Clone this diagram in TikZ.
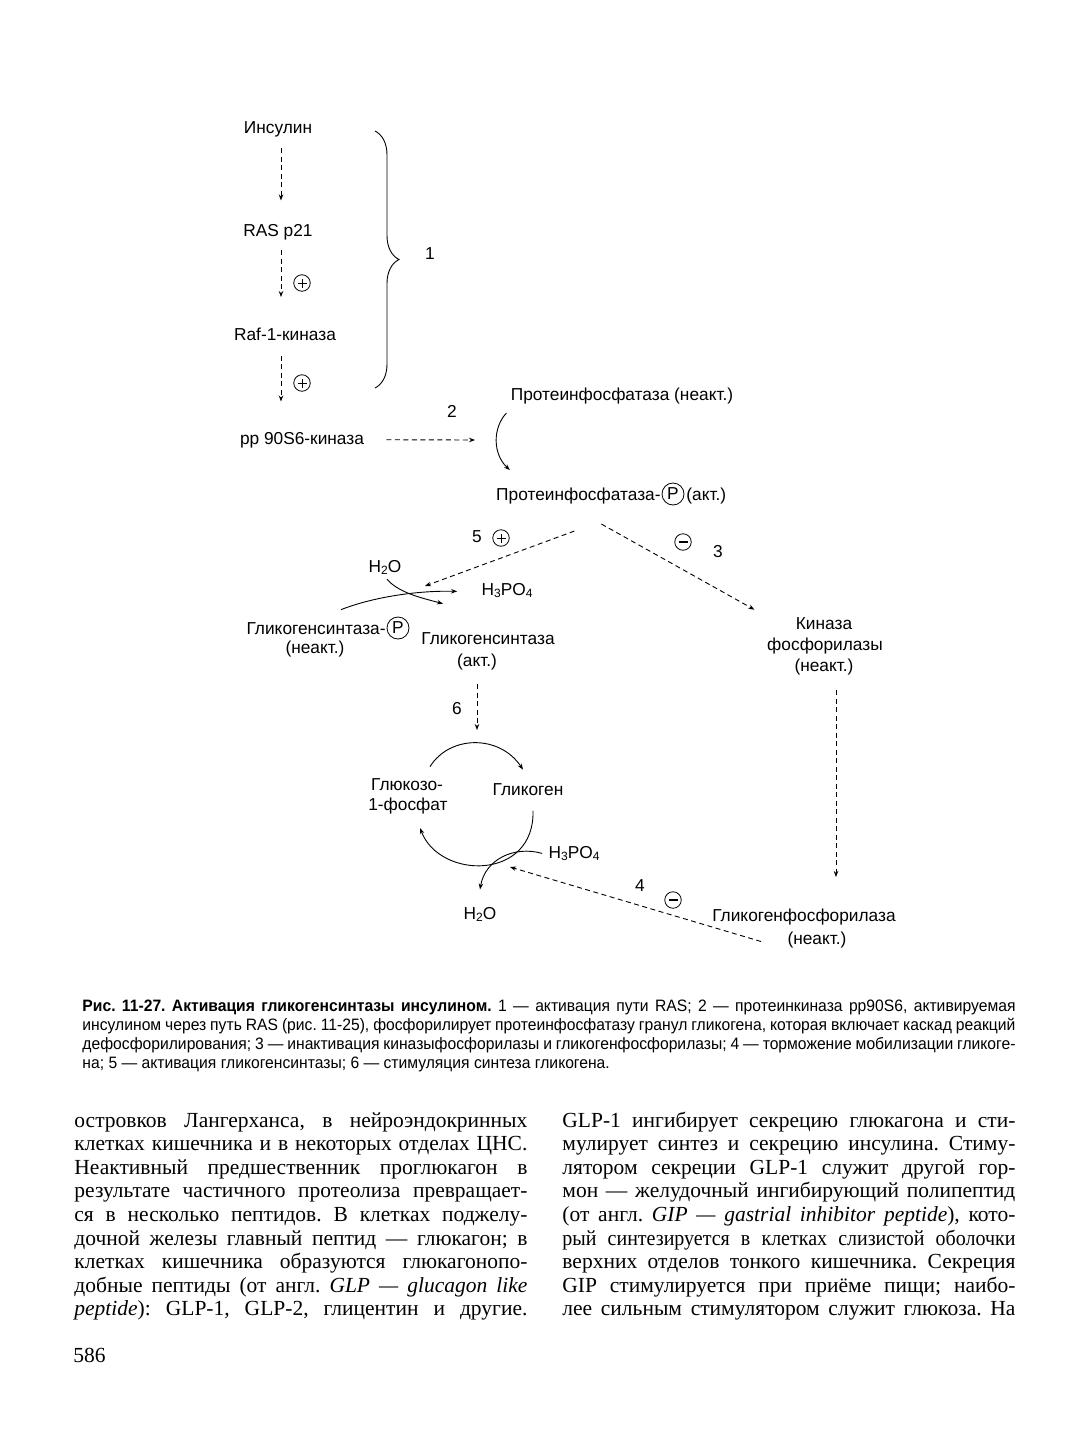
\documentclass[tikz,border=0pt]{standalone}
\usepackage{fontspec}
\setmainfont{Liberation Serif}
\setsansfont{Liberation Sans}
\newfontfamily\capfont[FakeStretch=0.95]{Liberation Sans}
\newfontfamily\tightfont[FakeStretch=0.93]{Liberation Serif}
\usetikzlibrary{arrows.meta,decorations.pathreplacing}
\frenchspacing
\newcommand\dfont{\fontsize{17.3pt}{20pt}\selectfont\sffamily}
\newcommand\bfnt{\fontsize{21.5pt}{23.6pt}\selectfont\rmfamily}
\newcommand\sbs[1]{\raisebox{-0.3ex}{\fontsize{12pt}{12pt}\selectfont #1}}
\newlength\colw \setlength\colw{453pt}
\newcommand\jline[1]{\hbox to \colw{#1}}
\newcommand\jl[2]{\hbox to #1{#2}}
\begin{document}
\begin{tikzpicture}[x=1pt,y=-1pt,line width=0.9pt,
 lbl/.style={font=\dfont,inner sep=0pt,anchor=base},
 darr/.style={dash pattern=on 5pt off 3.5pt,-{Stealth[length=6pt,width=4.5pt]}},
 sarr/.style={-{Stealth[length=6pt,width=4.5pt]}},
 plussign/.style={circle,draw,line width=0.8pt,minimum size=16.5pt,inner sep=0pt,
   path picture={\draw[line width=0.8pt] ([xshift=-4.5pt]path picture bounding box.center)--([xshift=4.5pt]path picture bounding box.center) ([yshift=-4.5pt]path picture bounding box.center)--([yshift=4.5pt]path picture bounding box.center);}},
 minussign/.style={circle,draw,line width=0.8pt,minimum size=16.5pt,inner sep=0pt,
   path picture={\draw[line width=1.3pt] ([xshift=-4.5pt]path picture bounding box.center)--([xshift=4.5pt]path picture bounding box.center);}},
 pcirc/.style={circle,draw,line width=0.8pt,minimum size=22pt,inner sep=0pt,font=\dfont}]
\fill[white] (0,0) rectangle (1077,1429);
\useasboundingbox (0,0) rectangle (1077,1429);

% ---- upper chain
\node[lbl] (ins) at (278,133) {Инсулин};
\node[lbl] (ras) at (278,236) {RAS p21};
\node[lbl] (raf) at (285,340) {Raf-1-киназа};
\node[lbl] (pp) at (302,444) {pp 90S6-киназа};
\node[plussign] (pl2) at (302,283) {};
\node[plussign] (pl3) at (302,383) {};
\node[lbl] (one) at (430,259) {1};
\node[lbl] (two) at (452,417) {2};
\coordinate (br1) at (375,131);
\coordinate (br2) at (375,388);
\draw[decorate,decoration={brace,amplitude=24pt}] (br1) -- (br2);

\draw[darr] ([shift={(3,11)}]ins.south) -- ([shift={(3,-23)}]ras.north);
\draw[darr] ([shift={(3,10)}]ras.south) -- ([shift={(-4,-30)}]raf.north);
\draw[darr] ([shift={(-4,15)}]raf.south) -- ([shift={(-21,-30)}]pp.north);

% ---- protein phosphatase
\node[lbl] (pin) at (622,400) {Протеинфосфатаза (неакт.)};
\node[lbl,anchor=base east] (pact) at (661,500) {Протеинфосфатаза-};
\node[pcirc] (pc1) at (673,494) {P};
\node[lbl,anchor=base west] (pakt) at (686,500) {(акт.)};
\coordinate (c2) at (497,440);
\draw[darr] ([xshift=22]pp.east) -- ([xshift=-22]c2);
\draw[sarr] ([shift={(-4,9)}]pin.south west) .. controls +(-14,15) and +(-17,-16) .. ([shift={(14,-17)}]pact.north west);

% ---- glycogen synthase
\node[lbl] (five) at (477,542) {5};
\node[plussign] (pl5) at (501,538) {};
\node[lbl] (h2oa) at (385,572) {H\sbs{2}O};
\node[lbl] (h3a) at (507,595) {H\sbs{3}PO\sbs{4}};
\node[lbl,anchor=base east] (gsp) at (386,634) {Гликогенсинтаза-};
\node[pcirc] (gspc) at (398,628) {P};
\node[lbl] (gsn) at (315,653) {(неакт.)};
\node[lbl] (gsa) at (488,644) {Гликогенсинтаза};
\node[lbl] (gsa2) at (477,666) {(акт.)};
\coordinate (rx1) at (425,586);
\draw[darr] ([shift={(-4,27)}]pact.south) -- (rx1);
\draw[sarr] ([shift={(2,4)}]h2oa.south) .. controls +(11,13) and +(-23,-6) .. ([shift={(-45,-28)}]gsa.north);
\draw[sarr] ([shift={(25,-12)}]gsp.north) .. controls +(33,-13) and +(-38,-1) .. ([shift={(-24,1)}]h3a.west);

% ---- kinase
\node[minussign] (mi3) at (683,542) {};
\node[lbl] (three) at (718,557) {3};
\node[lbl] (kin1) at (824,629) {Киназа};
\node[lbl] (kin2) at (825,650) {фосфорилазы};
\node[lbl] (kin3) at (824,671) {(неакт.)};
\draw[darr] ([shift={(23,20)}]pact.south) -- ([shift={(-41,-7)}]kin1.north west);

% ---- glycogen cycle
\node[lbl] (six) at (457,714) {6};
\node[lbl] (g1p1) at (407,790) {Глюкозо-};
\node[lbl] (g1p2) at (408,810) {1-фосфат};
\node[lbl] (glg) at (528,795) {Гликоген};
\node[lbl] (h3b) at (574,858) {H\sbs{3}PO\sbs{4}};
\node[lbl] (h2ob) at (480,919) {H\sbs{2}O};
\coordinate (cyctop) at (477,743);
\draw[darr] ([shift={(0,14)}]gsa2.south) -- ([shift={(0,-13)}]cyctop);
\draw[sarr] ([shift={(23,-11)}]g1p1.north) .. controls +(20,-32) and +(-23,-35) .. ([shift={(-5,-13)}]glg.north);
\draw[sarr] ([shift={(5,15)}]glg.south) .. controls +(2,70) and +(20,52) .. ([shift={(12,14)}]g1p2.south);
\draw[sarr] ([xshift=-6]h3b.west) .. controls +(-28,-8) and +(5,-30) .. ([shift={(0,-17)}]h2ob.north);

% ---- phosphorylase
\node[lbl] (four) at (640,891) {4};
\node[minussign] (mi4) at (673,900) {};
\node[lbl] (ggp1) at (804,921) {Гликогенфосфорилаза};
\node[lbl] (ggp2) at (817,944) {(неакт.)};
\coordinate (rx2) at (510,867);
\draw[darr] ([shift={(12,15)}]kin3.south) -- ([shift={(32,-31)}]ggp1.north);
\draw[darr] ([shift={(-26,2)}]ggp2.west) -- (rx2);

% ---- caption
\node[anchor=base west,inner sep=0pt] (cap) at (82,1011) {\capfont\fontsize{16.5pt}{19.3pt}\selectfont\vtop{%
\jl{933pt}{\textbf{Рис. 11-27. Активация гликогенсинтазы инсулином.} 1 — активация пути RAS; 2 — протеинкиназа pp90S6, активируемая}
\jl{933pt}{инсулином через путь RAS (рис. 11-25), фосфорилирует протеинфосфатазу гранул гликогена, которая включает каскад реакций}
\jl{933pt}{дефосфорилирования; 3 — инактивация киназыфосфорилазы и гликогенфосфорилазы; 4 — торможение мобилизации гликоге-}
\jl{933pt}{на; 5 — активация гликогенсинтазы; 6 — стимуляция синтеза гликогена.\hfil}}};

% ---- body text
\node[anchor=base west,inner sep=0pt] (bodyL) at (74,1127) {\bfnt\vtop{%
\jline{островков Лангерханса, в нейроэндокринных}
\jline{клетках кишечника и в некоторых отделах ЦНС.}
\jline{Неактивный предшественник проглюкагон в}
\jline{результате частичного протеолиза превращает-}
\jline{ся в несколько пептидов. В клетках поджелу-}
\jline{дочной железы главный пептид — глюкагон; в}
\jline{клетках кишечника образуются глюкагонопо-}
\jline{добные пептиды (от англ. \textit{GLP — glucagon like}}
\jline{\textit{peptide}): GLP-1, GLP-2, глицентин и другие.}}};
\node[anchor=base west,inner sep=0pt] (bodyR) at (562,1127) {\bfnt\vtop{%
\jline{GLP-1 ингибирует секрецию глюкагона и сти-}
\jline{мулирует синтез и секрецию инсулина. Стиму-}
\jline{лятором секреции GLP-1 служит другой гор-}
\jline{мон — желудочный ингибирующий полипептид}
\jline{(от англ. \textit{GIP — gastrial inhibitor peptide}), кото-}
\jline{\tightfont рый синтезируется в клетках слизистой оболочки}
\jline{верхних отделов тонкого кишечника. Секреция}
\jline{GIP стимулируется при приёме пищи; наибо-}
\jline{лее сильным стимулятором служит глюкоза. На}}};
\node[anchor=base west,inner sep=0pt,font=\bfnt] (pgno) at (73,1362) {586};
\end{tikzpicture}
\end{document}
